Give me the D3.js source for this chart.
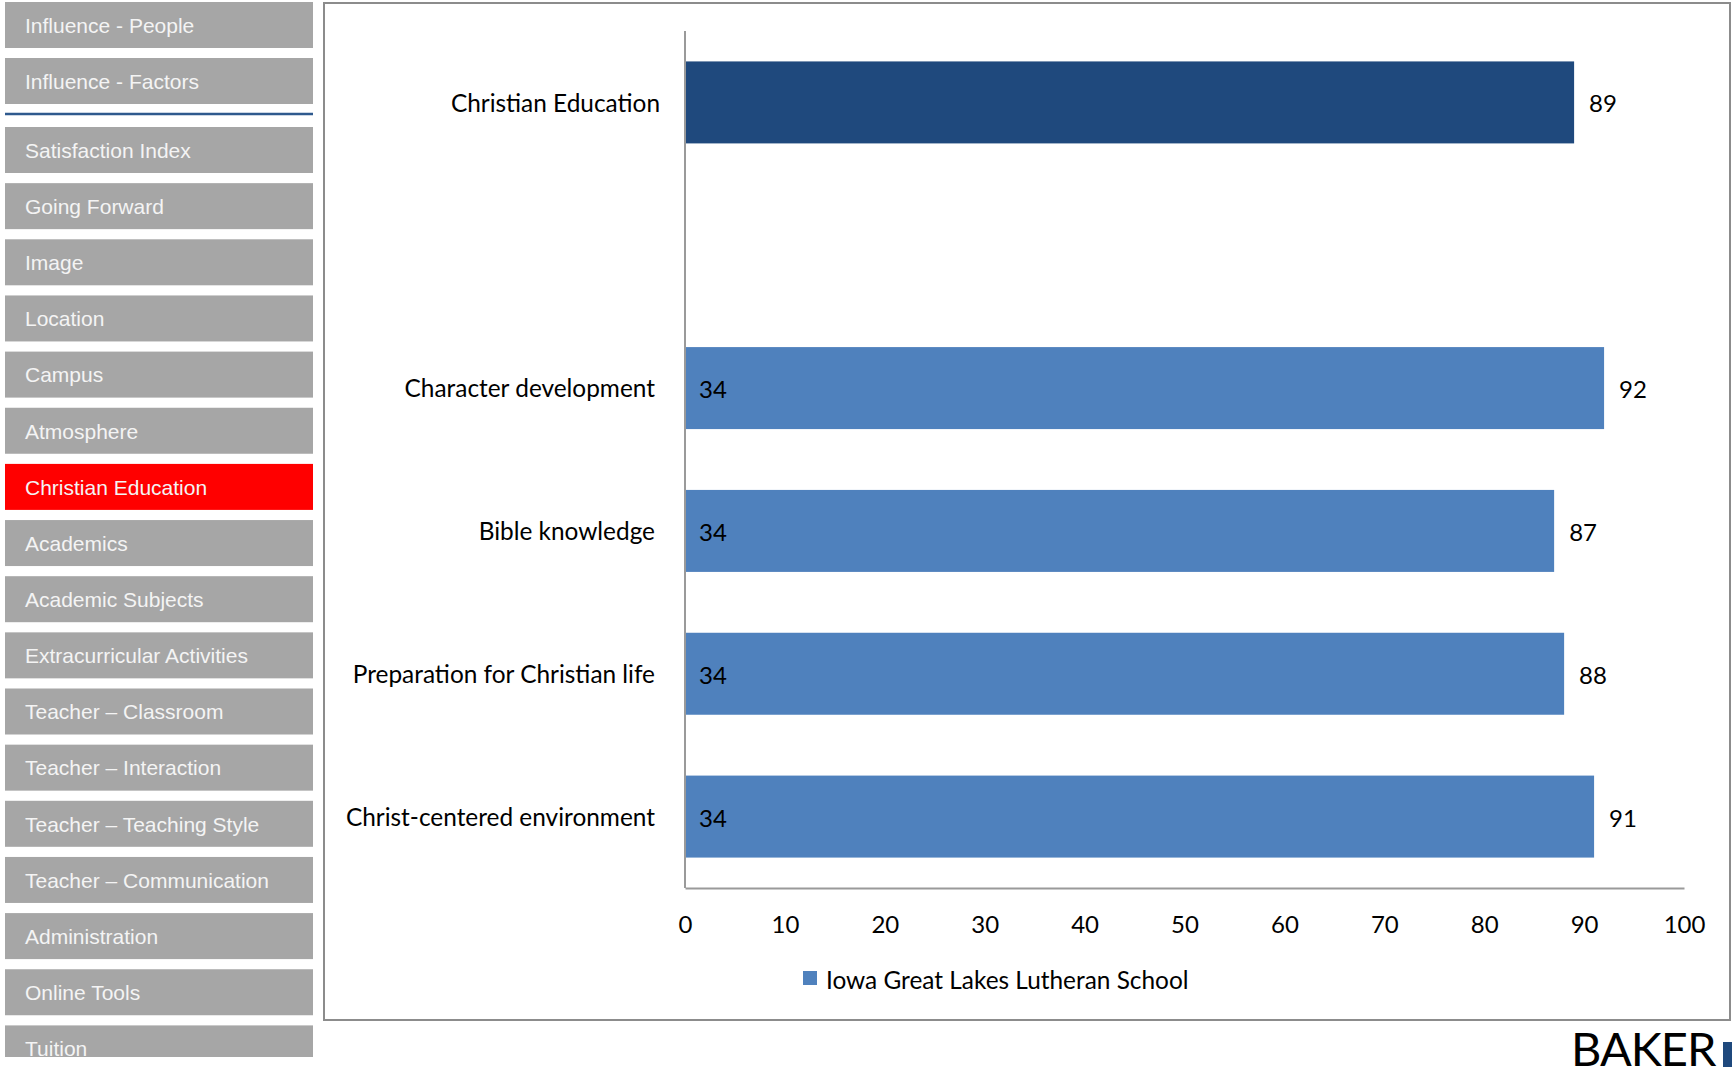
<!DOCTYPE html>
<html>
<head>
<meta charset="utf-8">
<script src="https://cdn.jsdelivr.net/npm/d3@7"></script>
<style>
  html, body { margin: 0; padding: 0; background: #ffffff; }
  svg { display: block; }
</style>
</head>
<body>
<svg id="chart" width="1732" height="1067"></svg>
<script>
// ---- data ----
const menuItems = ["Influence - People", "Influence - Factors", "Satisfaction Index", "Going Forward", "Image",
  "Location", "Campus", "Atmosphere", "Christian Education", "Academics", "Academic Subjects",
  "Extracurricular Activities", "Teacher \u2013 Classroom", "Teacher \u2013 Interaction",
  "Teacher \u2013 Teaching Style", "Teacher \u2013 Communication", "Administration", "Online Tools", "Tuition"];
const activeItem = "Christian Education";

const categories = ["Christian Education", "", "Character development", "Bible knowledge",
  "Preparation for Christian life", "Christ-centered environment"];
const values = [89, null, 92, 87, 88, 91];
const counts = [null, null, 34, 34, 34, 34];
const xTicks = [0, 10, 20, 30, 40, 50, 60, 70, 80, 90, 100];
const seriesName = "Iowa Great Lakes Lutheran School";

// ---- drawing ----
const svg = d3.select("#chart");
const chartFont = "Lato, 'Open Sans', sans-serif";

// sidebar menu
const menuTop = [2, 58];
for (let i = 2; i < menuItems.length; i++) menuTop.push(127 + (i - 2) * 56.15);
const menu = svg.append("g");
menuItems.forEach((m, i) => {
  const g = menu.append("g").attr("transform", `translate(5,${menuTop[i]})`);
  const h = (i === menuItems.length - 1) ? Math.min(46, 1057 - menuTop[i]) : 46;
  g.append("rect").attr("width", 308).attr("height", h)
    .attr("fill", m === activeItem ? "#ff0000" : "#a6a6a6");
  g.append("text").attr("x", 20).attr("y", 23).attr("dy", "0.37em")
    .attr("font-family", "'Liberation Sans', Arial, sans-serif").attr("font-size", 21)
    .attr("fill", "#f4f4f4").text(m);
});
svg.append("line").attr("x1", 5).attr("x2", 313).attr("y1", 114).attr("y2", 114)
  .attr("stroke", "#2f5a8e").attr("stroke-width", 2.5);

// chart panel border
svg.append("rect").attr("x", 324).attr("y", 3).attr("width", 1406).attr("height", 1017)
  .attr("fill", "none").attr("stroke", "#8c8c8c").attr("stroke-width", 2);

// scales
const x = d3.scaleLinear().domain([0, 100]).range([685, 1684]);
const y = d3.scaleBand().domain(d3.range(categories.length)).range([31, 888])
  .paddingInner(0.426).paddingOuter(0.213);

// bars
const plot = svg.append("g");
categories.forEach((c, i) => {
  if (values[i] == null) return;
  plot.append("rect").attr("x", x(0)).attr("y", y(i))
    .attr("width", x(values[i]) - x(0)).attr("height", y.bandwidth())
    .attr("fill", i === 0 ? "#1f497d" : "#4f81bd");
  plot.append("text").attr("x", x(values[i]) + 15).attr("y", y(i) + y.bandwidth() / 2)
    .attr("dy", "0.42em").attr("font-family", chartFont).attr("font-size", 24)
    .attr("fill", "#000").text(values[i]);
  if (counts[i] != null) {
    plot.append("text").attr("x", x(0) + 14).attr("y", y(i) + y.bandwidth() / 2)
      .attr("dy", "0.42em").attr("font-family", chartFont).attr("font-size", 24)
      .attr("fill", "#000").text(counts[i]);
  }
});

// category labels
categories.forEach((c, i) => {
  if (!c) return;
  svg.append("text").attr("x", i === 0 ? 660 : 655).attr("y", y(i) + y.bandwidth() / 2)
    .attr("dy", "0.38em").attr("text-anchor", "end")
    .attr("font-family", chartFont).attr("font-size", 24.4).attr("fill", "#000").text(c);
});

// axes lines
svg.append("line").attr("x1", x(0)).attr("x2", x(0)).attr("y1", 31).attr("y2", 888)
  .attr("stroke", "#9a9a9a").attr("stroke-width", 2);
const xAxis = d3.axisBottom(x).tickValues(xTicks).tickSize(0).tickPadding(28);
const gx = svg.append("g").attr("transform", "translate(0,888)").call(xAxis);
gx.select(".domain").attr("stroke", "#9a9a9a").attr("stroke-width", 2);
gx.selectAll("text").attr("font-family", chartFont).attr("font-size", 24).attr("fill", "#000");

// legend
svg.append("rect").attr("x", 803).attr("y", 971).attr("width", 14).attr("height", 14).attr("fill", "#4f81bd");
svg.append("text").attr("x", 826).attr("y", 980).attr("dy", "0.35em")
  .attr("font-family", chartFont).attr("font-size", 24.4).attr("fill", "#000").text(seriesName);

// brand
svg.append("text").attr("x", 1571).attr("y", 1066).attr("font-family", chartFont)
  .attr("font-size", 47).attr("letter-spacing", -1).attr("fill", "#000").text("BAKER");
svg.append("rect").attr("x", 1723).attr("y", 1042).attr("width", 9).attr("height", 25).attr("fill", "#1f497d");
</script>
</body>
</html>
